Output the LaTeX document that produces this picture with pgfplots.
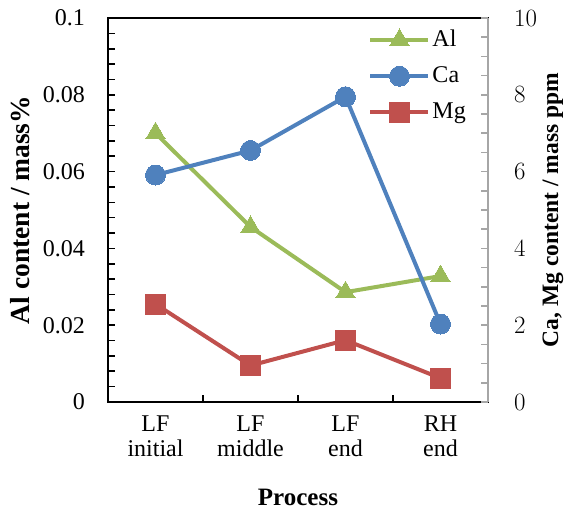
\documentclass[border=0pt]{standalone}
\usepackage{pgfplots}
\pgfplotsset{compat=1.18}
\usepackage{fontspec}
\setmainfont{Liberation Serif}
\definecolor{cAl}{HTML}{9BBB59}
\definecolor{cCa}{HTML}{4F81BD}
\definecolor{cMg}{HTML}{C0504D}
\definecolor{gax}{HTML}{A6A6A6}
\begin{document}
\fontsize{24}{25}\selectfont
\begin{tikzpicture}
\begin{axis}[
  scale only axis, width=380pt, height=384pt,
  xmin=0, xmax=4, ymin=0, ymax=0.1,
  axis line style={line width=2.2pt, black},
  xtick={0.5,1.5,2.5,3.5},
  xticklabels={{LF\\initial},{LF\\middle},{LF\\end},{RH\\end}},
  major x tick style={draw=none},
  minor xtick={1,2,3},
  minor x tick style={line width=2pt, black},
  xtick pos=bottom, ytick pos=left,
  tick align=inside,
  xticklabel style={align=center, font=\fontsize{24}{25}\selectfont, yshift=-6pt},
  ytick={0,0.02,0.04,0.06,0.08,0.1},
  yticklabels={0,0.02,0.04,0.06,0.08,0.1},
  minor y tick num=4,
  y tick style={line width=1.6pt, black},
  major tick length=7pt, minor tick length=7pt,
  yticklabel style={font=\fontsize{24}{25}\selectfont, xshift=-15pt},
  xlabel={\textbf{Process}},
  xlabel style={at={(axis description cs:0.5,0)}, anchor=center, yshift=-95pt, font=\fontsize{25}{26}\selectfont},
  ylabel={\textbf{Al content / mass\%}},
  ylabel style={at={(axis description cs:-0.23,0.5)}, anchor=center, font=\fontsize{27.5}{28}\selectfont},
  clip=false,
  legend style={draw=none, fill=none, at={(axis description cs:0.685,0.975)}, anchor=north west,
    font=\fontsize{24}{25}\selectfont, row sep=12.5pt, inner sep=0pt,
    nodes={inner sep=2pt}},
  legend cell align=left,
  legend image code/.code={\draw[#1,mark repeat=2,mark phase=2] plot coordinates {(0pt,0pt) (29pt,0pt) (58pt,0pt)};},
]
\addplot[color=cAl, line width=4pt, mark=triangle*, mark size=11pt, mark options={line width=0pt, fill=cAl, draw=cAl}]
  coordinates {(0.5,0.0700) (1.5,0.0456) (2.5,0.0286) (3.5,0.0328)};
\addlegendentry{Al}
\addlegendimage{color=cCa, line width=4pt, mark=*, mark size=10pt, mark options={line width=0pt, fill=cCa, draw=cCa}}
\addlegendentry{Ca}
\addlegendimage{color=cMg, line width=4pt, mark=square*, mark size=10pt, mark options={line width=0pt, fill=cMg, draw=cMg}}
\addlegendentry{Mg}
\end{axis}
\begin{axis}[
  scale only axis, width=380pt, height=384pt,
  xmin=0, xmax=4, ymin=0, ymax=10,
  axis x line=none,
  axis y line*=right,
  y axis line style={line width=2.2pt, gax},
  ytick={0,2,4,6,8,10},
  minor y tick num=3,
  y tick style={line width=1.6pt, gax},
  tick align=inside,
  major tick length=7pt, minor tick length=7pt,
  yticklabel style={font=\fontsize{24}{25}\selectfont, xshift=18pt, anchor=west},
  ylabel={\textbf{Ca, Mg content / mass ppm}},
  ylabel style={at={(axis description cs:1.171,0.5)}, anchor=center, font=\fontsize{23.5}{25}\selectfont},
  clip=false,
]
\addplot[color=cCa, line width=4pt, mark=*, mark size=10pt, mark options={line width=0pt, fill=cCa, draw=cCa}]
  coordinates {(0.5,5.91) (1.5,6.55) (2.5,7.95) (3.5,2.03)};
\addplot[color=cMg, line width=4pt, mark=square*, mark size=10pt, mark options={line width=0pt, fill=cMg, draw=cMg}]
  coordinates {(0.5,2.55) (1.5,0.95) (2.5,1.61) (3.5,0.62)};
\end{axis}
\pgfresetboundingbox
\path[use as bounding box] (current axis.south west) ++(-108pt,-109pt) rectangle ([xshift=83pt,yshift=18pt]current axis.north east);
\end{tikzpicture}
\end{document}
